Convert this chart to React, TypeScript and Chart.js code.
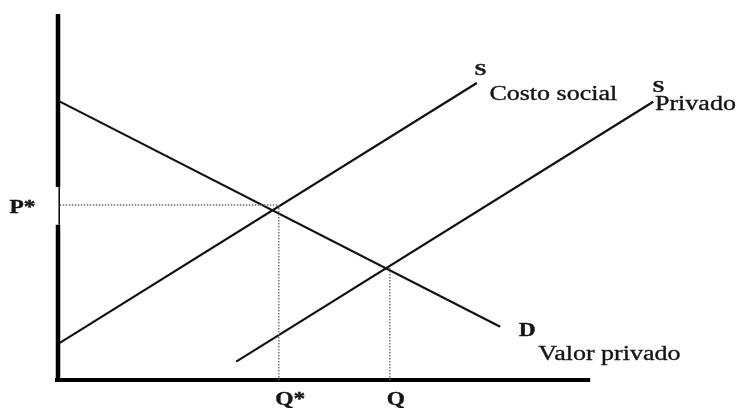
import React, { useEffect, useRef } from "react";
import { Chart, registerables } from "chart.js";

Chart.register(...registerables);

// Economic coordinates: quantity (x) and price (y), both on a 0..100 scale
const demandQ = [0, 73.7];
const demandP = [77.6, 14.8];
const socialQ = [0.3, 69.8];
const socialP = [10.3, 82.5];
const privateQ = [29.7, 99.2];
const privateP = [5.1, 77.3];

const pStar = 48.6;
const qStar = 36.8;
const qMarket = 55.3;
const pMarket = 31.1;

// Axis extents (with the small break on the price axis around P*)
const yAxisTop = 101.7;
const yAxisBreak = [43.1, 53.6];
const xAxisEnd = 88.7;

// Annotation labels
const labelTexts = ["S", "Costo social", "S", "Privado", "D", "Valor privado", "P*", "Q*", "Q"];
const labelBold = [true, false, true, false, true, false, true, true, true];
const labelQ = [69.4, 71.9, 99.1, 99.5, 76.8, 80.05, -8.1, 36.2, 54.8];
const labelP = [84.7, 77.8, 80.1, 75.0, 12.2, 5.6, 46.3, -6.9, -6.9];
const labelSize = [16.5, 20, 16.5, 20, 18, 20, 18, 18, 18];

const FONT = '"Liberation Serif", "Times New Roman", serif';
const STRETCH = 1.3;

const pts = (xs: number[], ys: number[]) => xs.map((x, i) => ({ x, y: ys[i] }));

export default function App() {
  const ref = useRef<HTMLCanvasElement | null>(null);

  useEffect(() => {
    document.body.style.margin = "0";
    const canvas = ref.current;
    if (!canvas) return;

    const labelPlugin = {
      id: "labels",
      afterDatasetsDraw(chart: any) {
        const ctx = chart.ctx as CanvasRenderingContext2D;
        const xs = chart.scales.x;
        const ys = chart.scales.y;
        labelTexts.forEach((t, i) => {
          const px = xs.getPixelForValue(labelQ[i]);
          const py = ys.getPixelForValue(labelP[i]);
          ctx.save();
          ctx.translate(px, py);
          ctx.scale(STRETCH, 1);
          ctx.font = `${labelBold[i] ? "bold " : ""}${labelSize[i]}px ${FONT}`;
          ctx.fillStyle = "#151515";
          ctx.strokeStyle = "#151515";
          ctx.lineWidth = 0.35;
          ctx.textAlign = "left";
          ctx.textBaseline = "alphabetic";
          ctx.fillText(t, 0, 0);
          ctx.strokeText(t, 0, 0);
          ctx.restore();
        });
      },
    };

    const base = {
      showLine: true,
      pointRadius: 0,
      pointHoverRadius: 0,
      fill: false,
      clip: false as any,
      tension: 0,
    };
    const dotted = { ...base, borderColor: "#6e6e6e", borderWidth: 1.4, borderDash: [1.5, 1.5] };
    const curve = { ...base, borderColor: "#111", borderWidth: 2.2 };

    const chart = new Chart(canvas, {
      type: "scatter",
      data: {
        datasets: [
          { ...dotted, data: [{ x: 0.3, y: pStar }, { x: qStar, y: pStar }] },
          { ...dotted, data: [{ x: qStar, y: pStar }, { x: qStar, y: 0 }] },
          { ...dotted, data: [{ x: qMarket, y: pMarket }, { x: qMarket, y: 0 }] },
          { ...curve, data: pts(demandQ, demandP) },
          { ...curve, data: pts(socialQ, socialP) },
          { ...curve, data: pts(privateQ, privateP) },
          // axes
          { ...base, borderColor: "#000", borderWidth: 4.5, borderCapStyle: "butt", data: [{ x: 0, y: yAxisTop }, { x: 0, y: yAxisBreak[1] }] },
          { ...base, borderColor: "#000", borderWidth: 1.5, data: [{ x: 0.2, y: yAxisBreak[1] }, { x: 0.2, y: yAxisBreak[0] }] },
          { ...base, borderColor: "#000", borderWidth: 4.5, borderCapStyle: "butt", data: [{ x: 0, y: yAxisBreak[0] }, { x: 0, y: -0.5 }] },
          { ...base, borderColor: "#000", borderWidth: 4, borderCapStyle: "butt", data: [{ x: -0.5, y: 0 }, { x: xAxisEnd, y: 0 }] },
        ] as any,
      },
      options: {
        animation: false,
        responsive: false,
        maintainAspectRatio: false,
        events: [],
        layout: { padding: { left: 58, right: 79, top: 20, bottom: 28 } },
        plugins: { legend: { display: false }, tooltip: { enabled: false } },
        scales: {
          x: { type: "linear", min: 0, max: 100, display: false },
          y: { type: "linear", min: 0, max: 100, display: false },
        },
      },
      plugins: [labelPlugin],
    });

    return () => chart.destroy();
  }, []);

  return (
    <div style={{ width: 737, height: 408, background: "#fff" }}>
      <canvas ref={ref} width={737} height={408} style={{ display: "block" }} />
    </div>
  );
}
